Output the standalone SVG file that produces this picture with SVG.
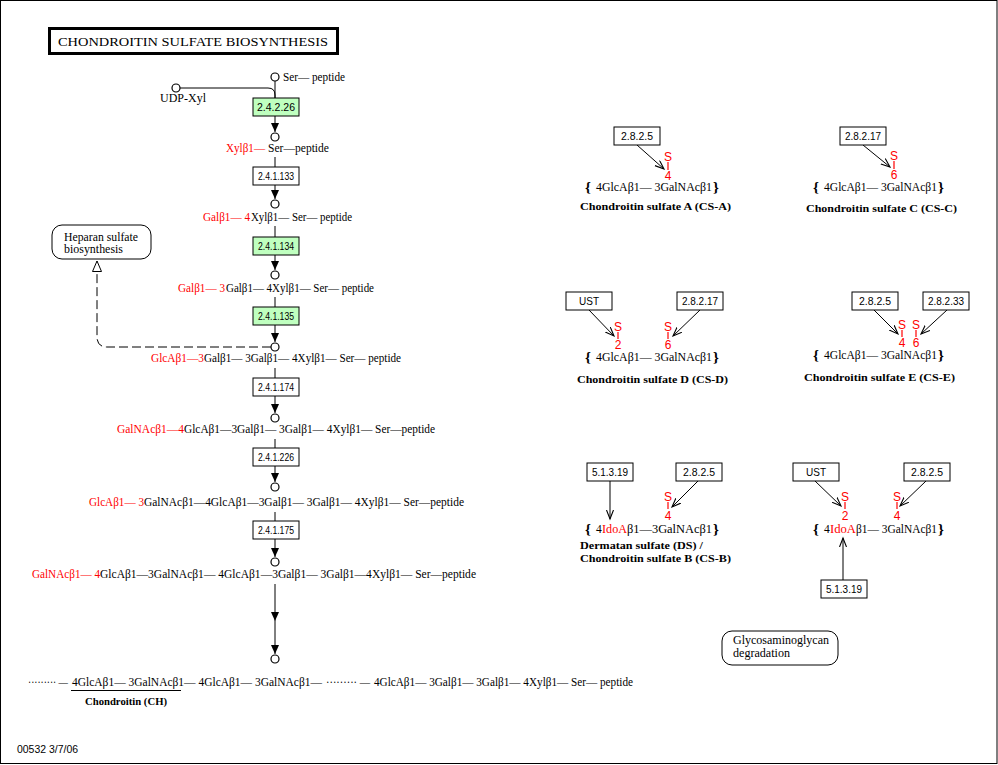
<svg xmlns="http://www.w3.org/2000/svg" width="998" height="765" viewBox="0 0 998 765">
<defs>
<style>
.t{font-family:"Liberation Serif","DejaVu Serif",serif;font-size:11.5px;fill:#000}
.r{fill:#ff0000}
.e{font-family:"Liberation Sans",Arial,sans-serif;font-size:10.5px;text-anchor:middle;fill:#000}
.s{font-family:"Liberation Sans",Arial,sans-serif;font-size:12px;text-anchor:middle;fill:#ff0000}
.b{font-family:"Liberation Serif","DejaVu Serif",serif;font-size:11px;font-weight:bold;fill:#000}
.k{font-family:"Liberation Serif","DejaVu Serif",serif;font-size:15px;font-weight:bold;fill:#000}
.box{fill:#fff;stroke:#000;stroke-width:1}
.gr{fill:#bfffbf;stroke:#000;stroke-width:1}
.c{fill:#fff;stroke:#000;stroke-width:1.2}
.ln{fill:none;stroke:#000;stroke-width:1}
.sb{stroke:#ff0000;stroke-width:1.2}
.rr{fill:#fff;stroke:#000;stroke-width:1}
</style>
<marker id="fa" markerUnits="userSpaceOnUse" markerWidth="12" markerHeight="12" refX="9" refY="4" orient="auto">
<path d="M0,0 L9,4 L0,8 z" fill="#000"/>
</marker>
<marker id="va" markerUnits="userSpaceOnUse" markerWidth="12" markerHeight="12" refX="9" refY="4" orient="auto">
<path d="M0,0.5 L9,4 L0,7.5" fill="none" stroke="#000" stroke-width="1.1"/>
</marker>
<marker id="oa" markerUnits="userSpaceOnUse" markerWidth="14" markerHeight="14" refX="11" refY="5" orient="auto">
<path d="M0.5,0.5 L11,5 L0.5,9.5 z" fill="#fff" stroke="#000" stroke-width="1"/>
</marker>
</defs>
<rect x="0.5" y="0.5" width="996.5" height="763" fill="#fff" stroke="#000" stroke-width="1"/>

<g id="title">
<rect x="49.5" y="28.5" width="288" height="25" fill="#fff" stroke="#000" stroke-width="3"/>
<text x="58" y="46" class="t" style="font-size:13.5px" textLength="270" lengthAdjust="spacingAndGlyphs">CHONDROITIN SULFATE BIOSYNTHESIS</text>
</g>

<g id="connectors">
<path class="ln" d="M180,88 H268 Q275,88 275,95 V98"/>
<line class="ln" x1="275" y1="81" x2="275" y2="98"/>
<line class="ln" x1="275" y1="116" x2="275" y2="132" marker-end="url(#fa)"/>
<line class="ln" x1="275" y1="157" x2="275" y2="167"/>
<line class="ln" x1="275" y1="185" x2="275" y2="199" marker-end="url(#fa)"/>
<line class="ln" x1="275" y1="226" x2="275" y2="237"/>
<line class="ln" x1="275" y1="255" x2="275" y2="270" marker-end="url(#fa)"/>
<line class="ln" x1="275" y1="297" x2="275" y2="307"/>
<line class="ln" x1="275" y1="325" x2="275" y2="342" marker-end="url(#fa)"/>
<line class="ln" x1="275" y1="368" x2="275" y2="378"/>
<line class="ln" x1="275" y1="396" x2="275" y2="413" marker-end="url(#fa)"/>
<line class="ln" x1="275" y1="439" x2="275" y2="448"/>
<line class="ln" x1="275" y1="466" x2="275" y2="482" marker-end="url(#fa)"/>
<line class="ln" x1="275" y1="512" x2="275" y2="521"/>
<line class="ln" x1="275" y1="539" x2="275" y2="557" marker-end="url(#fa)"/>
<line class="ln" x1="275" y1="584" x2="275" y2="621" marker-end="url(#fa)"/>
<line class="ln" x1="275" y1="621" x2="275" y2="654" marker-end="url(#fa)"/>
<path class="ln" d="M271,347 H107 Q97,347 97,337 V261" stroke-dasharray="9,4" marker-end="url(#oa)"/>
<line class="ln" x1="637" y1="145" x2="664" y2="169" marker-end="url(#va)"/>
<line class="ln" x1="863" y1="145" x2="890" y2="167" marker-end="url(#va)"/>
<line class="ln" x1="589" y1="310" x2="614" y2="336" marker-end="url(#va)"/>
<line class="ln" x1="700" y1="310" x2="673" y2="336" marker-end="url(#va)"/>
<line class="ln" x1="874" y1="310" x2="898" y2="334" marker-end="url(#va)"/>
<line class="ln" x1="947" y1="310" x2="921" y2="334" marker-end="url(#va)"/>
<line class="ln" x1="610" y1="481" x2="610" y2="519" marker-end="url(#va)"/>
<line class="ln" x1="698" y1="481" x2="672" y2="507" marker-end="url(#va)"/>
<line class="ln" x1="815" y1="481" x2="841" y2="506" marker-end="url(#va)"/>
<line class="ln" x1="926" y1="481" x2="900" y2="506" marker-end="url(#va)"/>
<line class="ln" x1="843" y1="580" x2="843" y2="538" marker-end="url(#va)"/>
</g>

<g id="cpd-ser">
<circle class="c" cx="275" cy="77" r="4"/>
<text class="t" x="283" y="81" textLength="62" lengthAdjust="spacingAndGlyphs">Ser— peptide</text>
</g>
<g id="cpd-udpxyl">
<circle class="c" cx="176" cy="88" r="4"/>
<text class="t" x="160" y="102" textLength="46" lengthAdjust="spacingAndGlyphs">UDP-Xyl</text>
</g>
<g id="cpd-1">
<circle class="c" cx="275" cy="137" r="4"/>
<text class="t r" x="226" y="152" textLength="39" lengthAdjust="spacingAndGlyphs">Xylβ1—</text>
<text class="t" x="268" y="152" textLength="61" lengthAdjust="spacingAndGlyphs">Ser—peptide</text>
</g>
<g id="cpd-2">
<circle class="c" cx="275" cy="204" r="4"/>
<text class="t r" x="203" y="221" textLength="47" lengthAdjust="spacingAndGlyphs">Galβ1— 4</text>
<text class="t" x="251" y="221" textLength="101" lengthAdjust="spacingAndGlyphs">Xylβ1— Ser— peptide</text>
</g>
<g id="cpd-3">
<circle class="c" cx="275" cy="275" r="4"/>
<text class="t r" x="178" y="292" textLength="47" lengthAdjust="spacingAndGlyphs">Galβ1— 3</text>
<text class="t" x="226" y="292" textLength="148" lengthAdjust="spacingAndGlyphs">Galβ1— 4Xylβ1— Ser— peptide</text>
</g>
<g id="cpd-4">
<circle class="c" cx="275" cy="347" r="4"/>
<text class="t r" x="151" y="362" textLength="53" lengthAdjust="spacingAndGlyphs">GlcAβ1—3</text>
<text class="t" x="204" y="362" textLength="197" lengthAdjust="spacingAndGlyphs">Galβ1— 3Galβ1— 4Xylβ1— Ser— peptide</text>
</g>
<g id="cpd-5">
<circle class="c" cx="275" cy="418" r="4"/>
<text class="t r" x="117" y="433" textLength="67" lengthAdjust="spacingAndGlyphs">GalNAcβ1—4</text>
<text class="t" x="184" y="433" textLength="251" lengthAdjust="spacingAndGlyphs">GlcAβ1—3Galβ1— 3Galβ1— 4Xylβ1— Ser—peptide</text>
</g>
<g id="cpd-6">
<circle class="c" cx="275" cy="487" r="4"/>
<text class="t r" x="89" y="506" textLength="55" lengthAdjust="spacingAndGlyphs">GlcAβ1— 3</text>
<text class="t" x="144" y="506" textLength="320" lengthAdjust="spacingAndGlyphs">GalNAcβ1—4GlcAβ1—3Galβ1— 3Galβ1— 4Xylβ1— Ser—peptide</text>
</g>
<g id="cpd-7">
<circle class="c" cx="275" cy="562" r="4"/>
<text class="t r" x="32" y="578" textLength="68" lengthAdjust="spacingAndGlyphs">GalNAcβ1— 4</text>
<text class="t" x="100" y="578" textLength="376" lengthAdjust="spacingAndGlyphs">GlcAβ1—3GalNAcβ1— 4GlcAβ1—3Galβ1— 3Galβ1—4Xylβ1— Ser—peptide</text>
</g>
<g id="cpd-chondroitin">
<circle class="c" cx="275" cy="659" r="4"/>
<text class="t" x="28" y="686" textLength="40" lengthAdjust="spacingAndGlyphs">········· —</text>
<text class="t" x="72" y="686" textLength="250" lengthAdjust="spacingAndGlyphs">4GlcAβ1— 3GalNAcβ1— 4GlcAβ1— 3GalNAcβ1—</text>
<text class="t" x="326" y="686" textLength="44" lengthAdjust="spacingAndGlyphs">········· —</text>
<text class="t" x="374" y="686" textLength="259" lengthAdjust="spacingAndGlyphs">4GlcAβ1— 3Galβ1— 3Galβ1— 4Xylβ1— Ser— peptide</text>
<line x1="71" y1="690.5" x2="181" y2="690.5" stroke="#000" stroke-width="1"/>
<text class="b" x="85" y="705" textLength="82" lengthAdjust="spacingAndGlyphs">Chondroitin (CH)</text>
</g>

<g id="enz-2.4.2.26"><rect class="gr" x="253" y="98" width="46" height="18"/><text class="e" x="276" y="111" textLength="38" lengthAdjust="spacingAndGlyphs">2.4.2.26</text></g>
<g id="enz-2.4.1.133"><rect class="box" x="253" y="167" width="46" height="18"/><text class="e" x="276" y="180" textLength="36" lengthAdjust="spacingAndGlyphs">2.4.1.133</text></g>
<g id="enz-2.4.1.134"><rect class="gr" x="253" y="237" width="46" height="18"/><text class="e" x="276" y="250" textLength="36" lengthAdjust="spacingAndGlyphs">2.4.1.134</text></g>
<g id="enz-2.4.1.135"><rect class="gr" x="253" y="307" width="46" height="18"/><text class="e" x="276" y="320" textLength="36" lengthAdjust="spacingAndGlyphs">2.4.1.135</text></g>
<g id="enz-2.4.1.174"><rect class="box" x="253" y="378" width="46" height="18"/><text class="e" x="276" y="391" textLength="36" lengthAdjust="spacingAndGlyphs">2.4.1.174</text></g>
<g id="enz-2.4.1.226"><rect class="box" x="253" y="448" width="46" height="18"/><text class="e" x="276" y="461" textLength="36" lengthAdjust="spacingAndGlyphs">2.4.1.226</text></g>
<g id="enz-2.4.1.175"><rect class="box" x="253" y="521" width="46" height="18"/><text class="e" x="276" y="534" textLength="36" lengthAdjust="spacingAndGlyphs">2.4.1.175</text></g>

<g id="map-heparan">
<rect class="rr" x="52" y="225" width="99" height="34" rx="10"/>
<text class="t" x="64" y="241" textLength="74" lengthAdjust="spacingAndGlyphs">Heparan sulfate</text>
<text class="t" x="64" y="253" textLength="59" lengthAdjust="spacingAndGlyphs">biosynthesis</text>
</g>
<g id="map-gag-degradation">
<rect class="rr" x="722" y="631" width="116" height="34" rx="10"/>
<text class="t" x="733" y="644" textLength="96" lengthAdjust="spacingAndGlyphs">Glycosaminoglycan</text>
<text class="t" x="733" y="657" textLength="57" lengthAdjust="spacingAndGlyphs">degradation</text>
</g>

<g id="cs-a">
<rect class="box" x="614" y="127" width="46" height="18"/><text class="e" x="637" y="140" textLength="32" lengthAdjust="spacingAndGlyphs">2.8.2.5</text>
<text class="s" x="668" y="161">S</text><line class="sb" x1="668" y1="162" x2="668" y2="170"/><text class="s" x="668" y="180">4</text>
<text class="k" x="585" y="192">{</text>
<text class="t" x="596" y="191" textLength="116" lengthAdjust="spacingAndGlyphs">4GlcAβ1— 3GalNAcβ1</text>
<text class="k" x="713" y="192">}</text>
<text class="b" x="580" y="210" textLength="151" lengthAdjust="spacingAndGlyphs">Chondroitin sulfate A (CS-A)</text>
</g>
<g id="cs-c">
<rect class="box" x="840" y="127" width="46" height="18"/><text class="e" x="863" y="140" textLength="36" lengthAdjust="spacingAndGlyphs">2.8.2.17</text>
<text class="s" x="894" y="160">S</text><line class="sb" x1="894" y1="161" x2="894" y2="169"/><text class="s" x="894" y="179">6</text>
<text class="k" x="813" y="192">{</text>
<text class="t" x="824" y="191" textLength="113" lengthAdjust="spacingAndGlyphs">4GlcAβ1— 3GalNAcβ1</text>
<text class="k" x="938" y="192">}</text>
<text class="b" x="806" y="212" textLength="151" lengthAdjust="spacingAndGlyphs">Chondroitin sulfate C (CS-C)</text>
</g>
<g id="cs-d">
<rect class="box" x="566" y="292" width="46" height="18"/><text class="e" x="589" y="305" textLength="20" lengthAdjust="spacingAndGlyphs">UST</text>
<rect class="box" x="677" y="292" width="46" height="18"/><text class="e" x="700" y="305" textLength="36" lengthAdjust="spacingAndGlyphs">2.8.2.17</text>
<text class="s" x="618" y="331">S</text><line class="sb" x1="618" y1="332" x2="618" y2="339"/><text class="s" x="618" y="349">2</text>
<text class="s" x="668" y="331">S</text><line class="sb" x1="668" y1="332" x2="668" y2="339"/><text class="s" x="668" y="349">6</text>
<text class="k" x="585" y="362">{</text>
<text class="t" x="596" y="361" textLength="116" lengthAdjust="spacingAndGlyphs">4GlcAβ1— 3GalNAcβ1</text>
<text class="k" x="713" y="362">}</text>
<text class="b" x="577" y="383" textLength="151" lengthAdjust="spacingAndGlyphs">Chondroitin sulfate D (CS-D)</text>
</g>
<g id="cs-e">
<rect class="box" x="852" y="292" width="46" height="18"/><text class="e" x="875" y="305" textLength="32" lengthAdjust="spacingAndGlyphs">2.8.2.5</text>
<rect class="box" x="923" y="292" width="46" height="18"/><text class="e" x="946" y="305" textLength="36" lengthAdjust="spacingAndGlyphs">2.8.2.33</text>
<text class="s" x="902" y="329">S</text><line class="sb" x1="902" y1="330" x2="902" y2="337"/><text class="s" x="902" y="347">4</text>
<text class="s" x="916" y="329">S</text><line class="sb" x1="916" y1="330" x2="916" y2="337"/><text class="s" x="916" y="347">6</text>
<text class="k" x="813" y="360">{</text>
<text class="t" x="824" y="359" textLength="113" lengthAdjust="spacingAndGlyphs">4GlcAβ1— 3GalNAcβ1</text>
<text class="k" x="938" y="360">}</text>
<text class="b" x="804" y="381" textLength="151" lengthAdjust="spacingAndGlyphs">Chondroitin sulfate E (CS-E)</text>
</g>
<g id="ds">
<rect class="box" x="587" y="463" width="46" height="18"/><text class="e" x="610" y="476" textLength="36" lengthAdjust="spacingAndGlyphs">5.1.3.19</text>
<rect class="box" x="676" y="463" width="46" height="18"/><text class="e" x="699" y="476" textLength="32" lengthAdjust="spacingAndGlyphs">2.8.2.5</text>
<text class="s" x="668" y="501">S</text><line class="sb" x1="668" y1="502" x2="668" y2="509"/><text class="s" x="668" y="520">4</text>
<text class="k" x="585" y="534">{</text>
<text class="t" x="596" y="533">4</text>
<text class="t r" x="602" y="533" textLength="25" lengthAdjust="spacingAndGlyphs">IdoA</text>
<text class="t" x="627" y="533" textLength="85" lengthAdjust="spacingAndGlyphs">β1—3GalNAcβ1</text>
<text class="k" x="713" y="534">}</text>
<text class="b" x="580" y="549" textLength="123" lengthAdjust="spacingAndGlyphs">Dermatan sulfate (DS) /</text>
<text class="b" x="580" y="562" textLength="151" lengthAdjust="spacingAndGlyphs">Chondroitin sulfate B (CS-B)</text>
</g>
<g id="ds-2">
<rect class="box" x="793" y="463" width="46" height="18"/><text class="e" x="816" y="476" textLength="20" lengthAdjust="spacingAndGlyphs">UST</text>
<rect class="box" x="904" y="463" width="46" height="18"/><text class="e" x="927" y="476" textLength="32" lengthAdjust="spacingAndGlyphs">2.8.2.5</text>
<rect class="box" x="821" y="580" width="46" height="18"/><text class="e" x="844" y="593" textLength="36" lengthAdjust="spacingAndGlyphs">5.1.3.19</text>
<text class="s" x="845" y="501">S</text><line class="sb" x1="845" y1="502" x2="845" y2="509"/><text class="s" x="845" y="520">2</text>
<text class="s" x="897" y="501">S</text><line class="sb" x1="897" y1="502" x2="897" y2="509"/><text class="s" x="897" y="520">4</text>
<text class="k" x="813" y="534">{</text>
<text class="t" x="824" y="533">4</text>
<text class="t r" x="830" y="533" textLength="26" lengthAdjust="spacingAndGlyphs">IdoA</text>
<text class="t" x="856" y="533" textLength="81" lengthAdjust="spacingAndGlyphs">β1— 3GalNAcβ1</text>
<text class="k" x="938" y="534">}</text>
</g>

<text x="17" y="753" style="font-family:'Liberation Sans',Arial,sans-serif;font-size:10px" textLength="61" lengthAdjust="spacingAndGlyphs">00532  3/7/06</text>
</svg>
